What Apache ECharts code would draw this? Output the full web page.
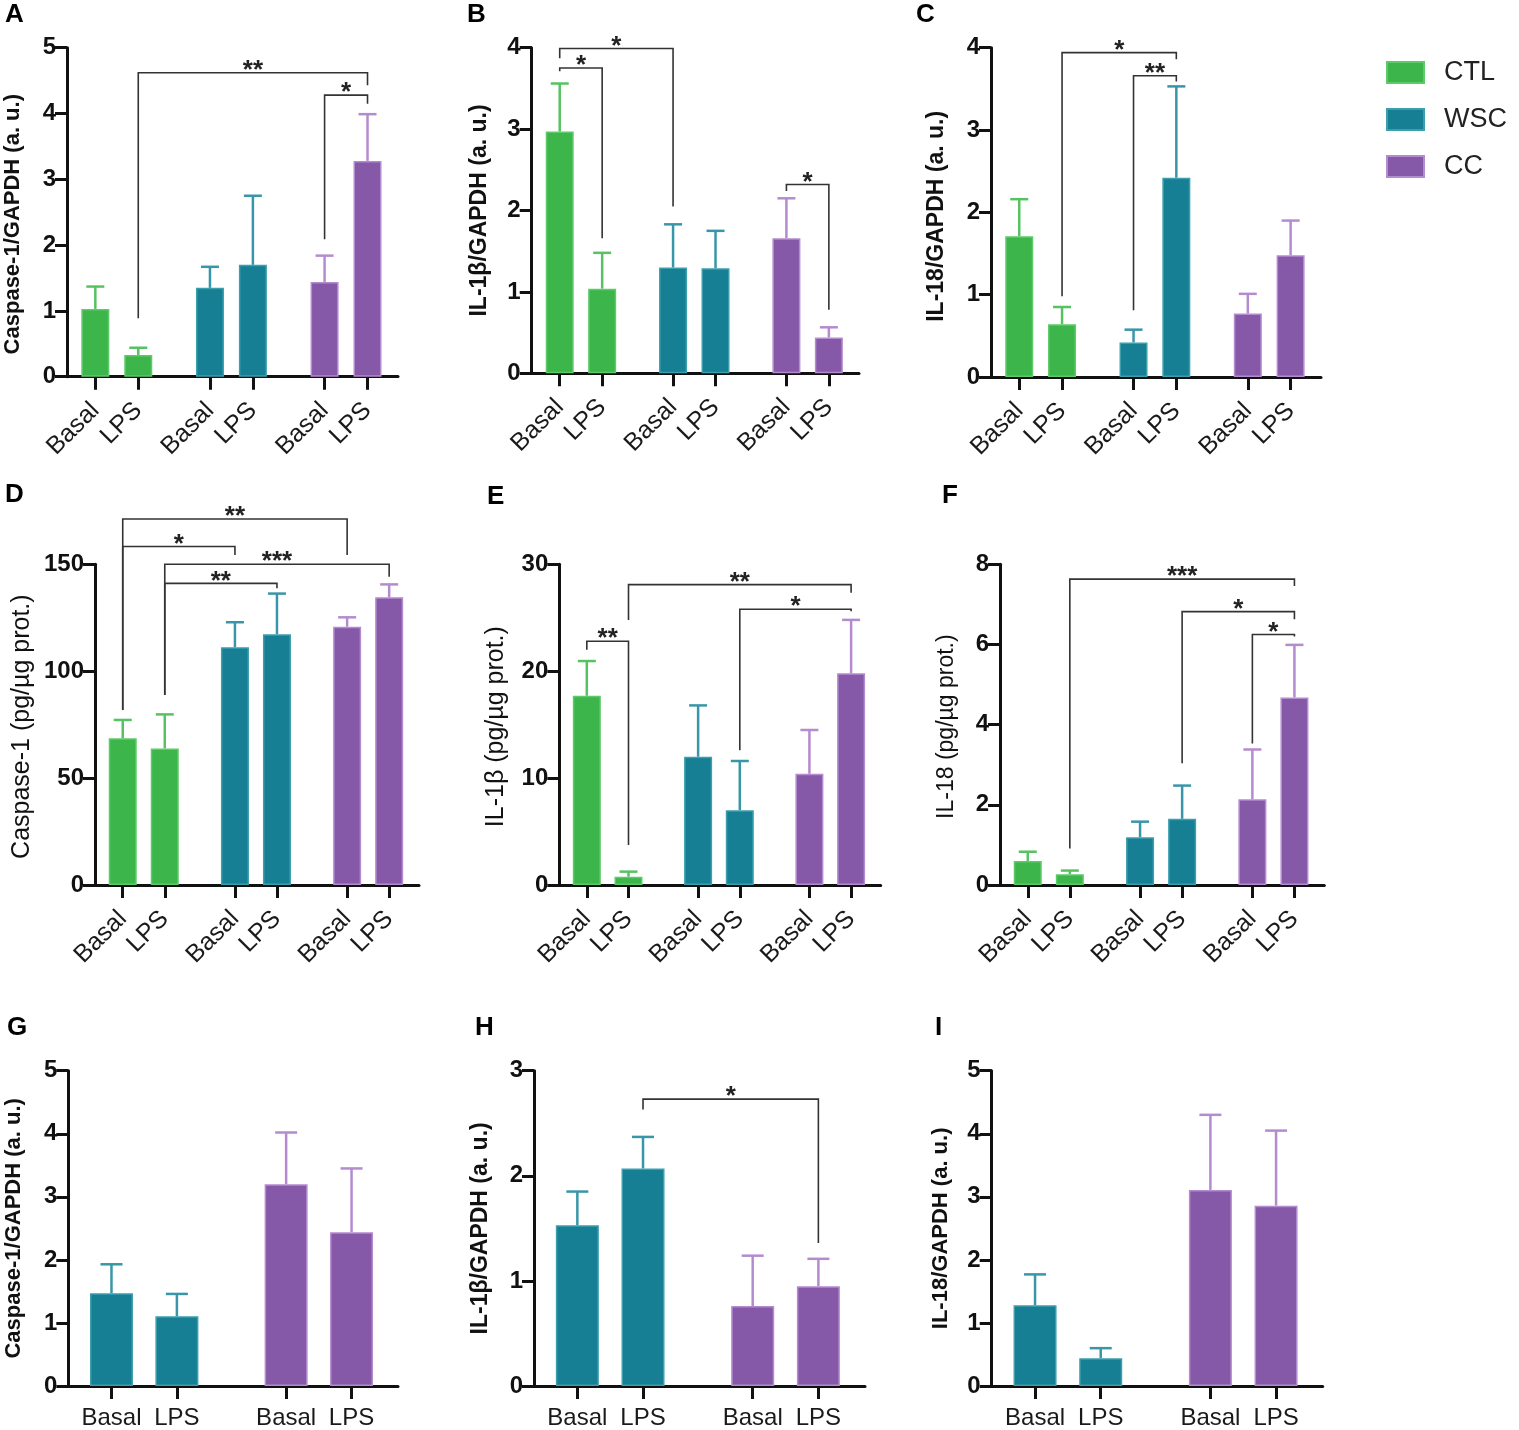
<!DOCTYPE html>
<html>
<head>
<meta charset="utf-8">
<title>Caspase-1, IL-1β and IL-18</title>
<script src="https://cdn.jsdelivr.net/npm/echarts@6.0.0/dist/echarts.min.js"></script>
<style>
  html, body { margin: 0; padding: 0; background: #fff; }
  #chart { width: 1519px; height: 1430px; }
</style>
</head>
<body>
<div id="chart"></div>
<script>
var FONT = 'Liberation Sans, Arial, sans-serif';

var conditions = ['Basal', 'LPS'];
var groupNames = ['CTL', 'WSC', 'CC'];
var groupColors = ['#3cb54b', '#177f93', '#8559a8'];
var borderColors = ['#5fca69', '#3c9fae', '#b58bd0'];
var errColors = ['#56c262', '#3896a8', '#b58bd0'];

// bars are in order CTL-Basal, CTL-LPS, WSC-Basal, WSC-LPS, CC-Basal, CC-LPS
// significance: [from bar, to bar, bracket level, left leg end, right leg end, label]
var aMean = [1.03, 0.33, 1.35, 1.70, 1.44, 3.28];
var aSd = [0.34, 0.11, 0.32, 1.05, 0.40, 0.71];
var aSig = [[1, 5, 4.62, 0.89, 4.43, '**'], [4, 5, 4.28, 2.09, 4.15, '*']];

var bMean = [2.97, 1.04, 1.30, 1.29, 1.66, 0.44];
var bSd = [0.59, 0.44, 0.53, 0.46, 0.49, 0.125];
var bSig = [[0, 1, 3.75, 3.71, 1.66, '*'], [0, 2, 3.99, 3.87, 2.05, '*'], [4, 5, 2.32, 2.24, 0.78, '*']];

var cMean = [1.71, 0.64, 0.42, 2.42, 0.77, 1.48];
var cSd = [0.45, 0.21, 0.155, 1.11, 0.24, 0.42];
var cSig = [[1, 3, 3.94, 0.98, 3.86, '*'], [2, 3, 3.66, 0.81, 3.59, '**']];

var dMean = [68.6, 63.9, 111.2, 117.3, 120.8, 134.6];
var dSd = [8.6, 15.9, 11.7, 19.0, 4.4, 6.0];
var dSig = [[0, 4, 171.2, 81.9, 154.4, '**'], [0, 2, 158.3, 81.9, 154.4, '*'],
            [1, 5, 150, 88.9, 144.2, '***'], [1, 3, 141.1, 88.9, 138.8, '**']];

var eMean = [17.7, 0.78, 12.0, 7.0, 10.4, 19.8];
var eSd = [3.25, 0.47, 4.8, 4.6, 4.1, 5.0];
var eSig = [[0, 1, 22.8, 22.0, 3.74, '**'], [1, 5, 28.1, 24.8, 27.35, '**'], [3, 5, 25.8, 12.6, 25.6, '*']];

var fMean = [0.60, 0.27, 1.19, 1.65, 2.14, 4.68];
var fSd = [0.23, 0.09, 0.39, 0.83, 1.24, 1.31];
var fSig = [[1, 5, 7.63, 0.91, 7.46, '***'], [3, 5, 6.82, 3.04, 6.63, '*'], [4, 5, 6.25, 3.53, 6.2, '*']];

// bottom row: WSC-Basal, WSC-LPS, CC-Basal, CC-LPS
var gMean = [1.47, 1.105, 3.20, 2.44];
var gSd = [0.46, 0.355, 0.82, 1.01];
var gSig = [];

var hMean = [1.53, 2.07, 0.76, 0.95];
var hSd = [0.32, 0.30, 0.48, 0.26];
var hSig = [[1, 3, 2.73, 2.63, 1.36, '*']];

var iMean = [1.28, 0.44, 3.11, 2.86];
var iSd = [0.49, 0.16, 1.19, 1.19];
var iSig = [];

var GROUP_STEP = 2.67;

var panels = [
  { letter: 'A', at: [5, 2], box: [67, 47.7, 331, 329], max: 5, step: 1, groups: [0, 1, 2],
    mean: aMean, sd: aSd, sig: aSig, title: 'Caspase-1/GAPDH (a. u.)', bold: true, size: 22, gap: 43, shift: 12 },
  { letter: 'B', at: [467, 2], box: [531.7, 47.7, 327.3, 325.6], max: 4, step: 1, groups: [0, 1, 2],
    mean: bMean, sd: bSd, sig: bSig, title: 'IL-1β/GAPDH (a. u.)', bold: true, size: 23, gap: 41, shift: 0 },
  { letter: 'C', at: [916, 2], box: [991, 47.7, 330, 329.3], max: 4, step: 1, groups: [0, 1, 2],
    mean: cMean, sd: cSd, sig: cSig, title: 'IL-18/GAPDH (a. u.)', bold: true, size: 23, gap: 43, shift: 4 },
  { letter: 'D', at: [5, 482], box: [95, 564.3, 324, 320.7], max: 150, step: 50, groups: [0, 1, 2],
    mean: dMean, sd: dSd, sig: dSig, title: 'Caspase-1 (pg/µg prot.)', bold: false, size: 25, gap: 60, shift: 2 },
  { letter: 'E', at: [487, 484], box: [559.3, 564.3, 321.4, 320.7], max: 30, step: 10, groups: [0, 1, 2],
    mean: eMean, sd: eSd, sig: eSig, title: 'IL-1β (pg/µg prot.)', bold: false, size: 25, gap: 51, shift: 2 },
  { letter: 'F', at: [942, 483], box: [1000, 564.3, 324.3, 320.7], max: 8, step: 2, groups: [0, 1, 2],
    mean: fMean, sd: fSd, sig: fSig, title: 'IL-18 (pg/µg prot.)', bold: false, size: 23, gap: 42, shift: 2 },
  { letter: 'G', at: [7, 1015], box: [68.3, 1070.7, 329.7, 316.6], max: 5, step: 1, groups: [1, 2],
    mean: gMean, sd: gSd, sig: gSig, title: 'Caspase-1/GAPDH (a. u.)', bold: true, size: 22, gap: 43, shift: 0 },
  { letter: 'H', at: [475, 1015], box: [534, 1070.7, 331, 316.6], max: 3, step: 1, groups: [1, 2],
    mean: hMean, sd: hSd, sig: hSig, title: 'IL-1β/GAPDH (a. u.)', bold: true, size: 23, gap: 42, shift: 0 },
  { letter: 'I', at: [935, 1015], box: [991.7, 1070.7, 331, 316.6], max: 5, step: 1, groups: [1, 2],
    mean: iMean, sd: iSd, sig: iSig, title: 'IL-18/GAPDH (a. u.)', bold: true, size: 22, gap: 40, shift: 0 }
];

var option = {
  animation: false,
  textStyle: { fontFamily: FONT },
  legend: {
    data: groupNames,
    orient: 'vertical',
    left: 1381,
    top: 54,
    itemWidth: 37,
    itemHeight: 21,
    itemGap: 20,
    icon: 'rect',
    selectedMode: false,
    textStyle: { fontSize: 27, color: '#222', fontFamily: FONT, padding: [0, 0, 0, 15] }
  },
  grid: [],
  xAxis: [],
  yAxis: [],
  series: [],
  graphic: []
};

panels.forEach(function (p, pi) {
  var tilted = p.groups.length === 3;
  var pos = [], labels = [], slotGroup = [];
  p.groups.forEach(function (g, gi) {
    conditions.forEach(function (c, k) {
      pos.push(gi * GROUP_STEP + k);
      labels.push(c);
      slotGroup.push(g);
    });
  });

  option.grid.push({ left: p.box[0], top: p.box[1], width: p.box[2], height: p.box[3] });

  option.xAxis.push({
    type: 'value', gridIndex: pi,
    min: -0.66, max: pos[pos.length - 1] + 0.71,
    splitLine: { show: false },
    axisLine: { lineStyle: { color: '#111', width: 3 } },
    axisTick: { customValues: pos, length: 13, lineStyle: { color: '#111', width: 3 } },
    axisLabel: {
      customValues: pos,
      rotate: tilted ? 45 : 0,
      margin: tilted ? 30 : 20,
      fontSize: tilted ? 25 : 24, color: '#1a1a1a', fontFamily: FONT,
      formatter: function (v) {
        for (var i = 0; i < pos.length; i++) {
          if (Math.abs(pos[i] - v) < 1e-6) return labels[i];
        }
        return '';
      }
    }
  });

  option.yAxis.push({
    type: 'value', gridIndex: pi, min: 0, max: p.max, interval: p.step,
    name: p.title, nameLocation: 'middle', nameGap: p.gap,
    nameTextStyle: {
      fontSize: p.size, fontWeight: p.bold ? 'bold' : 'normal', color: '#111', fontFamily: FONT,
      padding: [0, p.shift * 2, 0, 0]
    },
    splitLine: { show: false },
    axisLine: { show: true, onZero: false, lineStyle: { color: '#111', width: 3 } },
    axisTick: { show: true, length: 12, lineStyle: { color: '#111', width: 3 } },
    axisLabel: { fontSize: 24, fontWeight: 'bold', color: '#111', margin: 11, fontFamily: FONT }
  });

  p.groups.forEach(function (g) {
    var data = [];
    pos.forEach(function (x, i) {
      if (slotGroup[i] === g) data.push([x, p.mean[i]]);
    });
    option.series.push({
      type: 'bar', name: groupNames[g], xAxisIndex: pi, yAxisIndex: pi,
      barWidth: tilted ? 28 : 43, barGap: '-100%',
      itemStyle: { color: groupColors[g], borderColor: borderColors[g], borderWidth: 1.5 },
      emphasis: { disabled: true },
      data: data
    });
  });

  var capHalf = tilted ? 9 : 11;
  option.series.push({
    type: 'custom', xAxisIndex: pi, yAxisIndex: pi, z: 3,
    data: pos.map(function (x, i) { return [x, p.mean[i], p.mean[i] + p.sd[i], slotGroup[i]]; }),
    renderItem: function (params, api) {
      var base = api.coord([api.value(0), api.value(1)]);
      var top = api.coord([api.value(0), api.value(2)]);
      var col = errColors[api.value(3)];
      return {
        type: 'group',
        children: [
          { type: 'line', shape: { x1: base[0], y1: base[1], x2: top[0], y2: top[1] },
            style: { stroke: col, lineWidth: 2.5 } },
          { type: 'line', shape: { x1: top[0] - capHalf, y1: top[1], x2: top[0] + capHalf, y2: top[1] },
            style: { stroke: col, lineWidth: 2.5 } }
        ]
      };
    }
  });

  if (p.sig.length) {
    option.series.push({
      type: 'custom', xAxisIndex: pi, yAxisIndex: pi, z: 4, clip: false,
      data: p.sig.map(function (s) { return [pos[s[0]], pos[s[1]], s[2], s[3], s[4]]; }),
      renderItem: function (params, api) {
        var x1 = api.value(0), x2 = api.value(1), lvl = api.value(2);
        var a = api.coord([x1, api.value(3)]);
        var b = api.coord([x1, lvl]);
        var c = api.coord([x2, lvl]);
        var d = api.coord([x2, api.value(4)]);
        return {
          type: 'group',
          children: [
            { type: 'polyline', shape: { points: [a, b, c, d] },
              style: { stroke: '#333', lineWidth: 1.6, fill: null } },
            { type: 'text', x: (b[0] + c[0]) / 2, y: b[1] - 2,
              style: { text: p.sig[params.dataIndex][5], fontSize: 26, fontWeight: 'bold',
                       fontFamily: FONT, fill: '#222', align: 'center', verticalAlign: 'middle' } }
          ]
        };
      }
    });
  }

  option.graphic.push({
    type: 'text', left: p.at[0], top: p.at[1],
    style: { text: p.letter, fontSize: 26, fontWeight: 'bold', fill: '#000', fontFamily: FONT }
  });
});

var myChart = echarts.init(document.getElementById('chart'));
myChart.setOption(option);
</script>
</body>
</html>
